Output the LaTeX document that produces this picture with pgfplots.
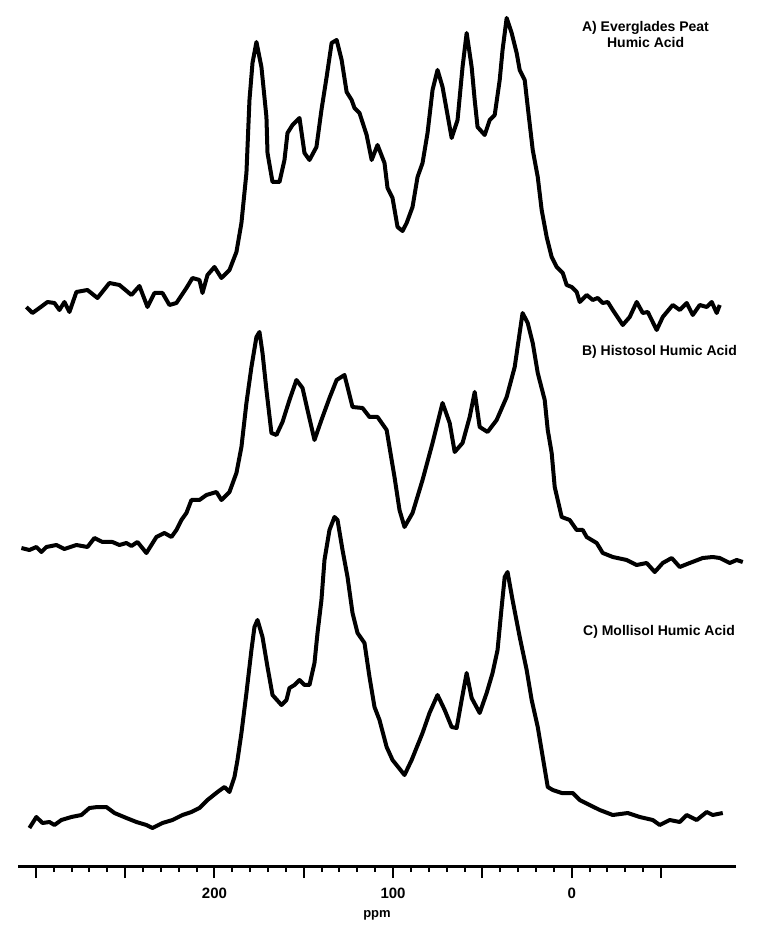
\documentclass[border=0pt]{standalone}
\usepackage{pgfplots}
\pgfplotsset{compat=1.18}
\usepackage{pgfplotstable}
\usepackage{fontspec}
\setmainfont{Liberation Sans}

% x = chemical shift (ppm), y = signal height (baseline offsets kept per spectrum)
\pgfplotstableread{
ppm I
305.3 559
301.9 553
298.0 558
293.5 564
289.6 563
286.8 556
284.0 564
281.2 554
277.3 574
271.1 576
265.5 568
258.8 583
253.2 581
246.5 571
242.0 580
237.5 559
233.6 573
229.1 573
225.2 561
221.3 563
215.7 578
212.3 588
208.4 586
206.7 573
203.9 591
200.0 599
196.1 588
191.6 596
187.7 614
184.9 643
182.1 693
180.4 766
178.7 803
176.5 824
173.7 799
170.9 749
170.3 713
167.5 684
163.6 684
160.8 706
159.1 733
156.3 741
152.4 748
149.6 713
146.8 706
142.9 719
140.1 756
137.2 789
134.4 823
131.6 826
128.8 806
126.0 774
123.2 766
121.6 758
118.8 753
114.8 731
112.0 706
108.7 721
104.8 703
103.1 678
100.3 668
97.5 639
94.7 635
92.4 643
89.1 659
86.3 689
83.5 703
80.7 733
77.9 776
75.1 796
72.3 779
70.0 756
67.2 728
63.9 746
61.1 799
58.8 833
56.0 799
54.3 766
52.7 739
48.7 731
45.9 746
43.1 751
40.3 786
38.7 816
36.4 848
33.6 833
30.8 813
29.1 796
26.3 786
24.6 759
21.8 716
19.0 689
16.8 656
14.0 629
11.2 609
8.4 599
5.0 593
2.8 581
0.0 579
-2.8 574
-4.5 564
-8.4 571
-11.8 566
-14.6 568
-17.4 563
-20.2 564
-23.0 556
-28.6 541
-32.5 549
-36.4 564
-39.8 553
-42.6 554
-47.6 536
-51.0 549
-56.6 561
-60.5 556
-64.4 563
-67.8 551
-71.7 561
-75.6 559
-78.4 564
-81.2 553
-82.9 561
}\specA

\pgfplotstableread{
ppm I
308.1 318
303.6 316
299.7 319
296.9 314
294.1 319
288.5 321
284.0 317
277.3 321
271.1 319
267.2 328
262.7 324
257.1 324
253.2 321
249.3 323
246.5 320
243.1 324
238.1 313
232.5 329
228.0 333
224.1 329
221.3 336
218.5 346
215.7 353
212.9 366
208.4 366
204.5 371
198.9 374
196.1 366
191.6 374
187.7 393
184.9 419
182.1 463
179.3 499
176.5 529
174.8 534
173.1 513
170.9 476
168.1 433
165.3 431
161.9 444
158.0 466
154.1 486
150.7 478
147.9 456
144.0 426
140.1 446
135.6 468
131.6 486
127.2 491
122.7 459
117.1 458
113.2 449
108.7 449
103.6 436
100.8 406
99.2 389
96.4 356
93.6 339
89.1 353
83.5 386
77.9 423
72.3 463
68.3 443
65.5 414
61.1 423
57.1 449
54.3 474
51.5 439
47.1 434
42.0 446
36.4 469
31.9 499
27.5 553
24.6 543
21.8 523
19.0 493
15.1 466
13.4 436
11.2 413
9.5 379
5.6 349
1.1 346
-2.8 336
-6.2 336
-8.4 329
-14.0 323
-17.4 313
-23.0 309
-30.8 306
-36.4 301
-42.0 303
-46.5 294
-51.0 303
-56.0 308
-60.5 299
-66.1 303
-73.4 308
-79.0 309
-82.9 308
-88.5 303
-92.4 306
-95.8 304
}\specB

\pgfplotstableread{
ppm I
303.6 38
299.7 49
296.3 43
292.4 44
289.6 41
285.7 46
280.1 49
274.5 51
270.0 58
265.5 59
260.5 59
256.0 53
249.3 48
243.7 44
238.1 41
234.7 38
229.1 43
223.5 46
217.9 51
212.9 54
208.4 58
203.9 66
198.3 74
194.4 79
191.6 74
188.8 89
187.1 106
184.9 133
182.1 173
179.3 216
177.6 239
175.9 246
173.1 229
170.3 199
167.5 171
162.5 161
159.7 166
158.0 178
155.2 181
152.4 186
149.6 181
146.8 181
144.0 203
142.3 233
140.1 266
138.4 306
135.6 336
132.8 349
131.1 346
128.3 316
125.5 289
122.7 253
119.9 233
116.0 223
113.2 189
110.4 159
107.6 146
103.6 119
100.3 106
93.6 91
89.6 106
83.5 133
79.6 153
75.1 171
71.1 156
67.2 139
64.4 138
61.6 166
58.8 193
56.0 168
51.5 153
47.6 173
44.3 193
41.5 216
39.2 259
37.5 289
35.9 294
33.1 266
29.1 229
25.2 196
22.4 166
19.0 139
16.2 109
13.4 79
10.6 76
5.6 73
-0.6 73
-4.5 66
-10.1 61
-15.7 56
-23.0 51
-31.4 53
-38.1 49
-45.4 46
-49.3 41
-54.9 46
-60.5 44
-64.4 51
-70.0 46
-75.6 54
-79.0 51
-84.6 53
}\specC

\begin{document}
\begin{tikzpicture}
\path[use as bounding box] (0,0) rectangle (387.5pt,462.5pt);
\begin{axis}[
  at={(9pt,29.5pt)}, anchor=south west,
  scale only axis, width=359pt, height=425.5pt,
  x dir=reverse,
  xmin=-92, xmax=310, ymin=0, ymax=851,
  axis x line=bottom, hide y axis,
  axis line style={line width=1.5pt, -},
  clip=false,
  xtick={300,250,200,150,100,50,0,-50},
  xticklabels={,,200,,100,,0,},
  minor x tick num=4,
  tick align=outside,
  major tick length=6pt, minor tick length=3pt,
  every tick/.style={black, line width=1pt},
  /pgf/number format/assume math mode=true,
  ticklabel style={font=\fontsize{7.5}{8}\selectfont\bfseries},
  xticklabel style={yshift=-1.5pt},
  xlabel={ppm},
  xlabel style={font=\fontsize{6.5}{7}\selectfont\bfseries, yshift=1pt},
]
\addplot[black, line width=2pt, line join=round] table[x=ppm, y=I] {\specA};
\addplot[black, line width=2pt, line join=round] table[x=ppm, y=I] {\specB};
\addplot[black, line width=2pt, line join=round] table[x=ppm, y=I] {\specC};
\node[anchor=west, font=\fontsize{7}{8}\selectfont\bfseries, inner sep=0pt] at (axis cs:-5.6,838) {A) Everglades Peat};
\node[anchor=west, font=\fontsize{7}{8}\selectfont\bfseries, inner sep=0pt] at (axis cs:-19.6,823) {Humic Acid};
\node[anchor=west, font=\fontsize{7}{8}\selectfont\bfseries, inner sep=0pt] at (axis cs:-5.6,514) {B) Histosol Humic Acid};
\node[anchor=west, font=\fontsize{7}{8}\selectfont\bfseries, inner sep=0pt] at (axis cs:-6.2,234) {C) Mollisol Humic Acid};
\end{axis}
\end{tikzpicture}
\end{document}
